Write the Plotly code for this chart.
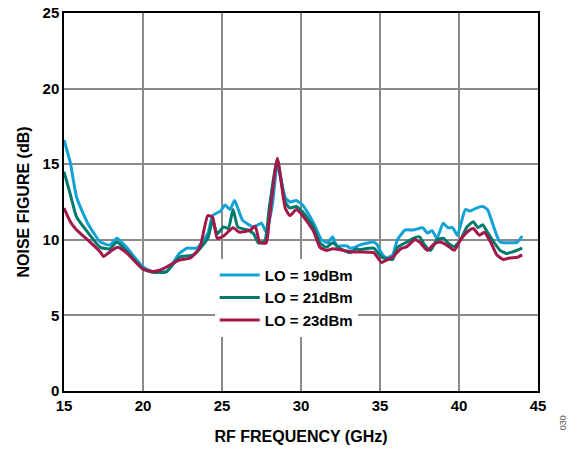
import plotly.graph_objects as go

freq_19 = [15.0, 15.4, 15.8, 16.5, 17.3, 17.9, 18.35, 19.0, 20.0, 20.6, 21.5, 22.3, 22.8, 23.4, 24.1, 24.4, 24.9, 25.2, 25.5, 25.8, 26.3, 27.0, 27.5, 27.8, 28.2, 28.5, 29.0, 29.3, 29.7, 30.1, 30.8, 31.3, 31.7, 32.0, 32.3, 32.5, 32.9, 33.1, 33.4, 33.7, 34.6, 34.8, 35.1, 35.4, 35.8, 36.1, 36.6, 37.1, 37.7, 38.0, 38.3, 38.6, 39.0, 39.3, 39.6, 39.9, 40.4, 40.7, 41.1, 41.5, 41.8, 42.2, 42.6, 43.2, 43.7, 44.0]
nf_19 = [16.6, 15.1, 12.8, 11.1, 9.85, 9.65, 10.1, 9.45, 8.2, 7.9, 7.9, 9.1, 9.45, 9.45, 10.4, 11.6, 11.9, 12.3, 12.0, 12.6, 11.3, 10.85, 11.1, 10.5, 12.4, 15.0, 12.8, 12.5, 12.6, 12.3, 11.1, 10.0, 9.8, 10.2, 9.5, 9.6, 9.6, 9.45, 9.5, 9.65, 9.85, 9.7, 9.1, 8.8, 9.0, 10.0, 10.65, 10.65, 10.8, 10.45, 10.6, 10.1, 11.1, 10.8, 10.8, 10.3, 12.0, 11.9, 12.1, 12.2, 12.0, 10.85, 9.85, 9.8, 9.85, 10.25]

freq_21 = [15.0, 15.4, 15.8, 16.5, 17.3, 17.9, 18.35, 19.0, 20.0, 20.6, 21.5, 22.3, 23.2, 24.1, 24.4, 24.7, 25.1, 25.4, 25.7, 26.0, 26.6, 27.0, 27.3, 27.7, 28.0, 28.5, 29.0, 29.3, 29.7, 30.1, 30.8, 31.2, 31.6, 32.0, 32.5, 33.1, 33.5, 33.7, 34.6, 35.1, 35.4, 35.8, 36.1, 36.7, 37.1, 37.5, 37.8, 38.2, 38.6, 39.0, 39.4, 39.7, 40.1, 40.5, 40.9, 41.2, 41.5, 41.8, 42.2, 42.6, 43.0, 43.4, 44.0]
nf_21 = [14.5, 13.0, 11.5, 10.5, 9.5, 9.4, 9.85, 9.2, 8.1, 7.85, 7.9, 8.85, 9.0, 10.1, 11.3, 10.4, 10.85, 10.75, 12.0, 10.85, 10.65, 10.4, 9.8, 9.9, 12.2, 15.3, 12.5, 12.1, 12.2, 11.85, 10.85, 9.8, 9.5, 9.8, 9.4, 9.15, 9.4, 9.35, 9.45, 8.85, 8.75, 8.7, 9.5, 9.85, 10.1, 10.2, 9.7, 9.3, 10.0, 10.1, 9.7, 9.55, 10.0, 10.85, 11.2, 10.8, 11.0, 10.5, 9.85, 9.3, 9.1, 9.2, 9.45]

freq_23 = [15.0, 15.4, 15.8, 16.5, 17.3, 17.5, 17.9, 18.4, 19.0, 20.0, 20.6, 21.1, 22.3, 23.0, 23.6, 24.1, 24.4, 24.7, 25.1, 25.7, 26.1, 26.8, 27.1, 27.4, 27.8, 28.0, 28.5, 29.0, 29.3, 29.7, 30.1, 30.8, 31.2, 31.6, 32.0, 32.7, 33.3, 33.7, 34.6, 35.1, 35.4, 35.8, 36.3, 36.7, 37.2, 37.5, 38.0, 38.4, 38.8, 39.3, 39.7, 40.1, 40.5, 40.9, 41.3, 41.6, 42.0, 42.4, 42.8, 43.2, 43.7, 44.0]
nf_23 = [12.1, 11.2, 10.65, 10.0, 9.2, 8.9, 9.2, 9.5, 9.1, 8.05, 7.9, 8.0, 8.65, 8.8, 9.5, 11.6, 11.5, 10.1, 10.25, 10.8, 10.5, 10.65, 10.9, 9.8, 9.8, 11.4, 15.4, 12.1, 11.6, 12.0, 11.6, 10.55, 9.5, 9.3, 9.4, 9.3, 9.2, 9.2, 9.15, 8.5, 8.65, 8.85, 9.4, 9.55, 10.0, 9.85, 9.3, 9.7, 9.85, 9.6, 9.3, 10.0, 10.5, 10.75, 10.3, 10.5, 9.85, 9.0, 8.7, 8.8, 8.85, 9.0]

series_names = ["LO = 19dBm", "LO = 21dBm", "LO = 23dBm"]
colors = ["#12A2D6", "#007A6C", "#A3174A"]
x_ticks = [15, 20, 25, 30, 35, 40, 45]
y_ticks = [0, 5, 10, 15, 20, 25]

FONT = "Arial, Liberation Sans, Helvetica, sans-serif"

fig = go.Figure()
for fx, fy, name, c in zip([freq_19, freq_21, freq_23], [nf_19, nf_21, nf_23], series_names, colors):
    fig.add_trace(go.Scatter(x=fx, y=fy, mode="lines", name=f"<b>{name}</b>",
                             line=dict(color=c, width=3, shape="spline", smoothing=0.5)))

axis_common = dict(showgrid=True, gridcolor="#8a8a8a", gridwidth=1.5,
                   showline=True, linecolor="black", linewidth=1.5, mirror=True,
                   zeroline=False, ticks="", automargin=False,
                   tickfont=dict(family=FONT, size=15, color="black"))

fig.update_xaxes(range=[15, 45], tickvals=x_ticks, ticktext=[f"<b>{v}</b>" for v in x_ticks],
                 title=dict(text="<b>RF FREQUENCY (GHz)</b>", font=dict(family=FONT, size=16, color="black"), standoff=18),
                 **axis_common)
fig.update_yaxes(range=[0, 25], tickvals=y_ticks, ticktext=[f"<b>{v}</b>" for v in y_ticks],
                 title=dict(text="<b>NOISE FIGURE (dB)</b>", font=dict(family=FONT, size=16, color="black"), standoff=9),
                 **axis_common)

fig.update_layout(
    width=586, height=449,
    margin=dict(l=64, r=48, t=13, b=58, autoexpand=False),
    paper_bgcolor="white", plot_bgcolor="white",
    font=dict(family=FONT, size=14, color="black"),
    showlegend=True,
    legend=dict(x=0.318, y=0.35, xanchor="left", yanchor="top", bgcolor="white",
                borderwidth=0, font=dict(family=FONT, size=15, color="black"),
                tracegroupgap=0, itemwidth=40),
    annotations=[dict(text="030", x=1.068, y=-0.11, xref="paper", yref="paper",
                      showarrow=False, textangle=-90, font=dict(family=FONT, size=9, color="#555555"))],
)

fig.write_html("out.html")
